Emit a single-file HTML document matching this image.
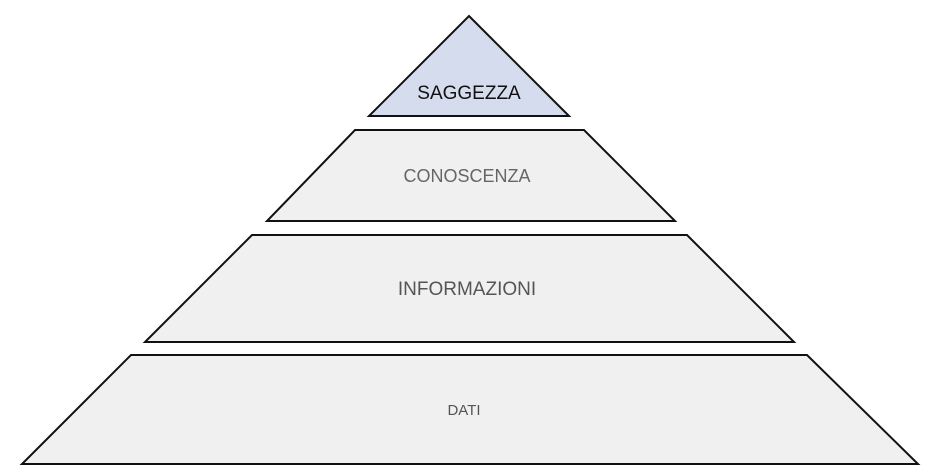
<!DOCTYPE html>
<html><head><meta charset="utf-8"><style>
html,body{margin:0;padding:0;background:#fff;width:944px;height:471px;overflow:hidden}
svg{display:block}
text{font-family:"Liberation Sans",sans-serif;text-anchor:middle}
</style></head><body>
<svg width="944" height="471" viewBox="0 0 944 471">
<polygon points="469,16 569,116 369,116" fill="#d5dcee" stroke="#111" stroke-width="2"/>
<polygon points="355,130 584,130 675,221 267,221" fill="#f0f0f0" stroke="#111" stroke-width="2"/>
<polygon points="252,235 687,235 794,342 145,342" fill="#f0f0f0" stroke="#111" stroke-width="2"/>
<polygon points="131,355 807,355 918,464 22,464" fill="#f0f0f0" stroke="#111" stroke-width="2"/>
<text x="469" y="99" font-size="19" fill="#111">SAGGEZZA</text>
<text x="467" y="182" font-size="18" fill="#666">CONOSCENZA</text>
<text x="467" y="295" font-size="19" fill="#555">INFORMAZIONI</text>
<text x="464" y="415" font-size="15" fill="#555">DATI</text>
</svg>
</body></html>
